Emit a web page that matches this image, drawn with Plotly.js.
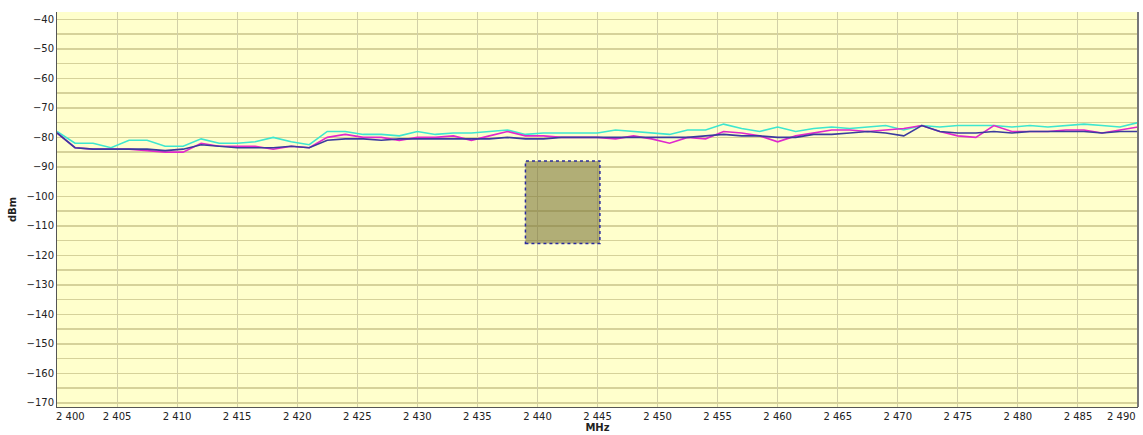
<!DOCTYPE html>
<html>
<head>
<meta charset="utf-8">
<script src="https://cdn.plot.ly/plotly-3.0.1.min.js"></script>
<style>html,body{margin:0;padding:0;background:#fff}#chart{width:1143px;height:435px}</style>
</head>
<body>
<div id="chart"></div>
<script>
var freqMHz = [2400,2401.5,2403,2404.5,2406,2407.5,2409,2410.5,2412,2413.5,2415,2416.5,2418,2419.5,2421,2422.5,2424,2425.5,2427,2428.5,2430,2431.5,2433,2434.5,2436,2437.5,2439,2440.5,2442,2443.5,2445,2446.5,2448,2449.5,2451,2452.5,2454,2455.5,2457,2458.5,2460,2461.5,2463,2464.5,2466,2467.5,2469,2470.5,2472,2473.5,2475,2476.5,2478,2479.5,2481,2482.5,2484,2485.5,2487,2488.5,2490];
var cyanDbm = [-78,-82,-82,-83.5,-81,-81,-83,-83,-80.5,-82,-82,-81.5,-80,-81.5,-82.5,-78,-78,-79,-79,-79.5,-78,-79,-78.5,-78.5,-78,-77.5,-79,-78.5,-78.5,-78.5,-78.5,-77.5,-78,-78.5,-79,-77.5,-77.5,-75.5,-77,-78,-76.5,-78,-77,-76.5,-77,-76.5,-76,-77.5,-76,-76.5,-76,-76,-76,-76.5,-76,-76.5,-76,-75.5,-76,-76.5,-75];
var magentaDbm = [-78.5,-83.5,-84,-84,-84,-84.5,-85,-85,-82,-83,-83,-83,-84,-83,-83.5,-80,-79,-80,-80,-81,-80,-80,-79.5,-81,-79.5,-78,-79.5,-79.5,-80,-80,-80,-80.5,-79.5,-80.5,-82,-80,-80.5,-78,-78.5,-79.5,-81.5,-79.5,-78.5,-77.5,-77.5,-78,-77.5,-77,-76,-78,-79.5,-80,-76,-78,-78,-78,-77.5,-77.5,-78.5,-77.5,-76.5];
var blueDbm = [-78.5,-83.5,-84,-84,-84,-84,-84.5,-84,-82.5,-83,-83.5,-83.5,-83.5,-83,-83.5,-81,-80.5,-80.5,-81,-80.5,-80.5,-80.5,-80.5,-80.5,-80.5,-80,-80.5,-80.5,-80,-80,-80,-80,-80,-80,-80,-80,-79.5,-79,-79.5,-79.5,-80,-80,-79,-79,-78.5,-78,-78.5,-79.5,-76,-78,-78.5,-78.5,-78,-78.5,-78,-78,-78,-78,-78.5,-78,-78];
var xTickVals = [2400,2405,2410,2415,2420,2425,2430,2435,2440,2445,2450,2455,2460,2465,2470,2475,2480,2485,2490];
var xTickText = ["2 400","2 405","2 410","2 415","2 420","2 425","2 430","2 435","2 440","2 445","2 450","2 455","2 460","2 465","2 470","2 475","2 480","2 485","2 490"];
var yTickVals = [-40,-50,-60,-70,-80,-90,-100,-110,-120,-130,-140,-150,-160,-170];
var markerBox = {x0: 2439, x1: 2445.2, y0: -116, y1: -88};

var font = {family: "DejaVu Sans, Tahoma, sans-serif", size: 10, color: "#222"};
var n = xTickVals.length;
var innerVals = xTickVals.slice(1, n - 1);
var innerText = xTickText.slice(1, n - 1);

var traces = [
  {x: freqMHz, y: cyanDbm, mode: "lines", line: {color: "#3ee6cf", width: 1.6}, hoverinfo: "skip"},
  {x: freqMHz, y: magentaDbm, mode: "lines", line: {color: "#e028cc", width: 1.6}, hoverinfo: "skip"},
  {x: freqMHz, y: blueDbm, mode: "lines", line: {color: "#3b3b9e", width: 1.6}, hoverinfo: "skip"}
];
var layout = {
  width: 1143, height: 435,
  margin: {l: 57, r: 5, t: 12, b: 28},
  paper_bgcolor: "#ffffff",
  plot_bgcolor: "#ffffcc",
  showlegend: false,
  font: font,
  xaxis: {
    range: [2400, 2490], tickvals: innerVals, ticktext: innerText,
    showgrid: true, gridcolor: "#d2d0a8", gridwidth: 1,
    zeroline: false, showline: true, linecolor: "#555", linewidth: 1,
    ticks: "", tickfont: font,
    title: {text: "<b>MHz</b>", font: {family: font.family, size: 10, color: "#222"}, standoff: 2}
  },
  yaxis: {
    range: [-171.4, -37.5], tickvals: yTickVals,
    showgrid: true, gridcolor: "#d6d29a", gridwidth: 1.5,
    minor: {dtick: 5, tick0: -40, showgrid: true, gridcolor: "#d6d29a", gridwidth: 1.5},
    zeroline: false, showline: true, linecolor: "#555", linewidth: 1,
    ticks: "", tickfont: font,
    title: {text: "<b>dBm</b>", font: {family: font.family, size: 10, color: "#222"}, standoff: 8}
  },
  annotations: [
    {x: xTickVals[0], xref: "x", y: 0, yref: "paper", yanchor: "top", xanchor: "left", xshift: -3, yshift: -2,
     text: xTickText[0], showarrow: false, font: font},
    {x: xTickVals[n - 1], xref: "x", y: 0, yref: "paper", yanchor: "top", xanchor: "right", xshift: 0, yshift: -2,
     text: xTickText[n - 1], showarrow: false, font: font}
  ],
  shapes: [
    {type: "rect", xref: "x", yref: "y", x0: markerBox.x0, x1: markerBox.x1, y0: markerBox.y0, y1: markerBox.y1,
     fillcolor: "rgba(120,115,55,0.58)", line: {color: "#2a2aa0", width: 1.5, dash: "dot"}, layer: "above"},
    {type: "line", xref: "paper", yref: "paper", x0: 1, x1: 1, y0: 0, y1: 1, line: {color: "#777", width: 2}}
  ]
};
Plotly.newPlot("chart", traces, layout, {staticPlot: true});
</script>
</body>
</html>
